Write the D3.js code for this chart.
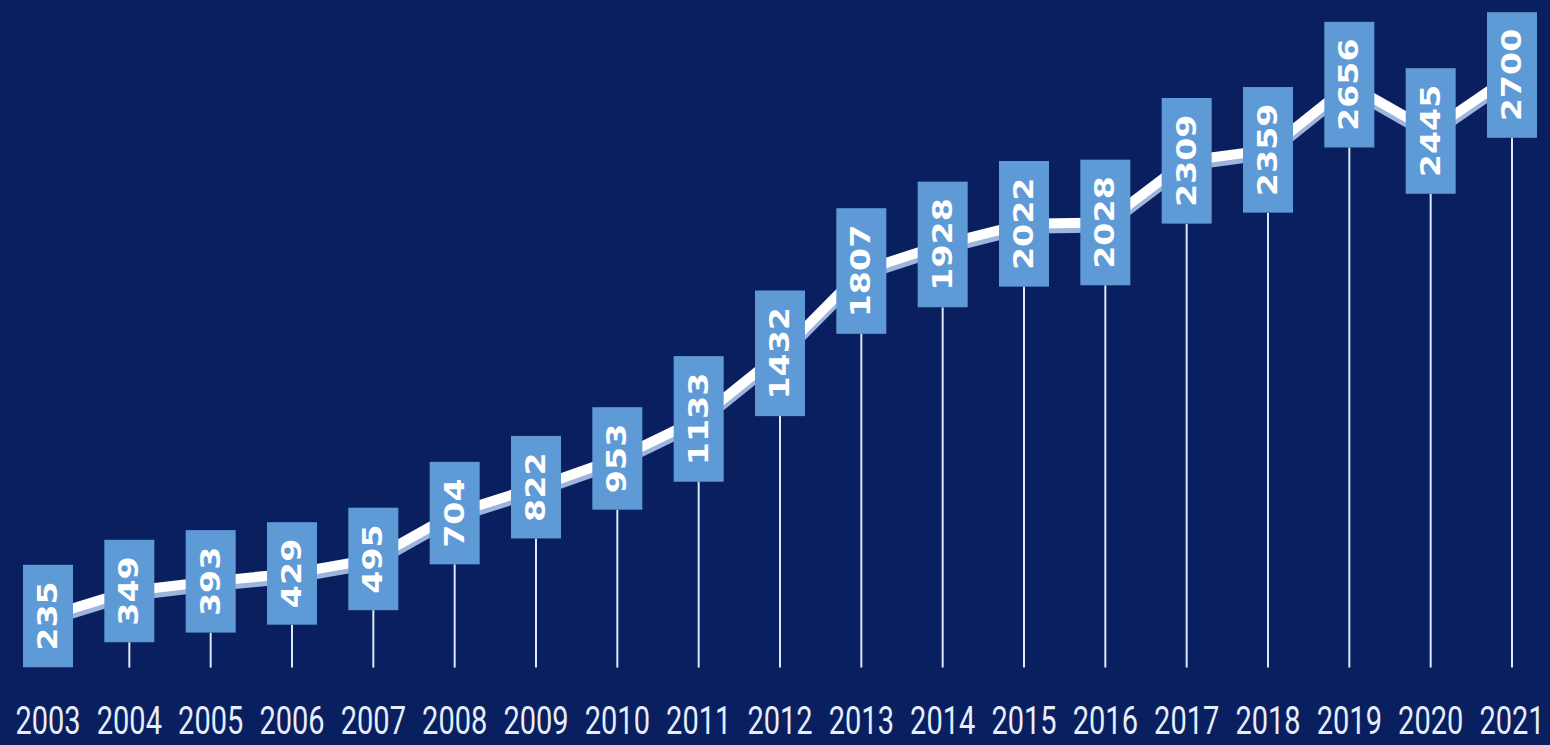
<!DOCTYPE html>
<html>
<head>
<meta charset="utf-8">
<script src="https://cdn.jsdelivr.net/npm/d3@7"></script>
<style>
  html, body { margin: 0; padding: 0; background: #0a1f5f; }
  svg { display: block; }
</style>
</head>
<body>
<svg id="chart" width="1550" height="745"></svg>
<script>
const years = ["2003","2004","2005","2006","2007","2008","2009","2010","2011","2012","2013","2014","2015","2016","2017","2018","2019","2020","2021"];
const values = [235, 349, 393, 429, 495, 704, 822, 953, 1133, 1432, 1807, 1928, 2022, 2028, 2309, 2359, 2656, 2445, 2700];

const W = 1550, H = 745;
const svg = d3.select("#chart");
svg.append("rect").attr("width", W).attr("height", H).attr("fill", "#0a1f5f");

const x = d3.scalePoint().domain(years).range([48, 1512]);
const y = d3.scaleLinear().domain([0, 2700]).range([667.6, 75]);

const data = years.map((yr, i) => ({ year: yr, value: values[i] }));

const line = d3.line().x(d => x(d.year)).y(d => y(d.value));

// line shadow and white line
svg.append("path").datum(data)
  .attr("d", line)
  .attr("transform", "translate(0,5)")
  .attr("fill", "none")
  .attr("stroke", "#9db5dc")
  .attr("stroke-width", 10)
  .attr("stroke-linejoin", "round");
svg.append("path").datum(data)
  .attr("d", line)
  .attr("fill", "none")
  .attr("stroke", "#ffffff")
  .attr("stroke-width", 10)
  .attr("stroke-linejoin", "round");

const groups = svg.append("g").selectAll("g").data(data).join("g");

const textScale = 1.28;
const boxW = 50;
const baseY = y(0);

groups.each(function(d) {
  const g = d3.select(this);
  const cx = x(d.year), cy = y(d.value);
  const t = g.append("text")
    .attr("font-family", "DejaVu Sans")
    .attr("font-weight", "bold")
    .attr("font-size", 26)
    .attr("fill", "#ffffff")
    .attr("text-anchor", "middle")
    .attr("dominant-baseline", "central")
    .attr("transform", `translate(${cx},${cy}) scale(1,${textScale}) rotate(-90)`)
    .text(d3.format("d")(d.value));
  const len = t.node().getComputedTextLength() * textScale;
  const boxH = len + 33;
  const boxBottom = cy + boxH / 2;
  if (baseY - boxBottom > 1) {
    g.insert("line", "text")
      .attr("x1", cx).attr("x2", cx)
      .attr("y1", boxBottom).attr("y2", baseY)
      .attr("stroke", "#dfe8f7")
      .attr("stroke-width", 2);
  }
  g.insert("rect", "text")
    .attr("x", cx - boxW / 2)
    .attr("y", cy - boxH / 2)
    .attr("width", boxW)
    .attr("height", boxH)
    .attr("fill", "#5e9ad6");
});

// year labels
svg.append("g").selectAll("text").data(years).join("text")
  .attr("transform", d => `translate(${x(d)},734) scale(1,1.35)`)
  .attr("text-anchor", "middle")
  .attr("font-family", "Roboto")
  .attr("font-size", 29)
  .attr("fill", "#e6eefb")
  .text(d => d);
</script>
</body>
</html>
